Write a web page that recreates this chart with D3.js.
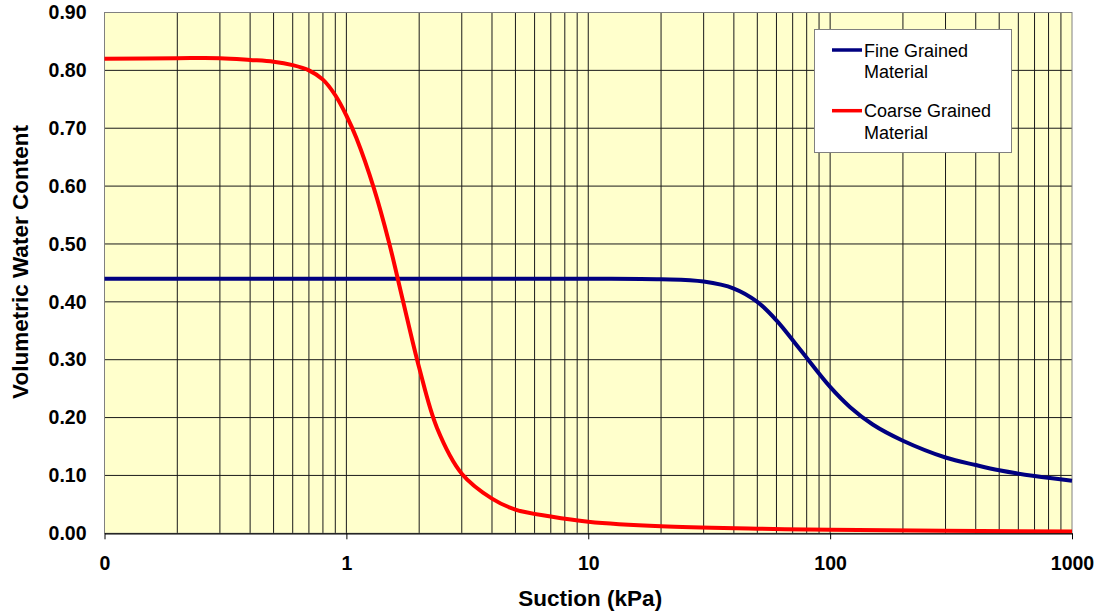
<!DOCTYPE html>
<html>
<head>
<meta charset="utf-8">
<script src="https://cdn.jsdelivr.net/npm/d3@7"></script>
<style>
  html, body { margin: 0; padding: 0; background: #ffffff; }
  svg { display: block; font-family: "Liberation Sans", Arial, sans-serif; }
</style>
</head>
<body>
<svg id="chart" width="1098" height="613"></svg>
<script>
// Soil-water characteristic curves: volumetric water content vs. matric suction
const fineSuction   = [0.1, 1, 10, 20, 30, 40, 50, 60, 75, 100, 121, 150, 200, 300, 400, 500, 700, 1000];
const fineTheta     = [0.44, 0.44, 0.44, 0.439, 0.435, 0.423, 0.400, 0.368, 0.318, 0.253, 0.218, 0.188, 0.160, 0.131, 0.118, 0.109, 0.099, 0.091];

const coarseSuction = [0.1, 0.2, 0.3, 0.4, 0.5, 0.6, 0.7, 0.8, 0.9, 1.0, 1.1, 1.3, 1.5, 1.7, 2.0, 2.37, 3, 4, 5, 7, 10, 20, 50, 100, 1000];
const coarseTheta   = [0.82, 0.821, 0.821, 0.818, 0.815, 0.809, 0.800, 0.784, 0.757, 0.722, 0.683, 0.596, 0.503, 0.408, 0.286, 0.182, 0.103, 0.060, 0.041, 0.029, 0.020, 0.012, 0.008, 0.006, 0.003];

const xTickValues = [0.1, 1, 10, 100, 1000];
const xTickLabels = ["0", "1", "10", "100", "1000"];
const yTickValues = [0, 0.1, 0.2, 0.3, 0.4, 0.5, 0.6, 0.7, 0.8, 0.9];

const seriesNames = ["Fine Grained|Material", "Coarse Grained|Material"];
const seriesColors = ["#000080", "#ff0000"];

const svg = d3.select("#chart");
const plot = { left: 104.5, right: 1072, top: 12.5, bottom: 533.3 };

const x = d3.scaleLog().domain([0.1, 1000]).range([plot.left, plot.right]);
const y = d3.scaleLinear().domain([0, 0.9]).range([plot.bottom, plot.top]);

// plot background
svg.append("rect")
  .attr("x", plot.left).attr("y", plot.top)
  .attr("width", plot.right - plot.left).attr("height", plot.bottom - plot.top)
  .attr("fill", "#ffffcc");

// vertical grid: every 1..9 multiple of each decade
const vGrid = [];
for (let e = -1; e < 3; e++) {
  for (let m = 1; m <= 9; m++) vGrid.push(m * Math.pow(10, e));
}
svg.append("g").selectAll("line").data(vGrid.filter(v => v > 0.1 && v < 1000)).join("line")
  .attr("x1", d => x(d)).attr("x2", d => x(d))
  .attr("y1", plot.top).attr("y2", plot.bottom)
  .attr("stroke", "#1a1a1a").attr("stroke-width", 1);

// horizontal grid
svg.append("g").selectAll("line").data(yTickValues.filter(v => v > 0 && v < 0.9)).join("line")
  .attr("x1", plot.left).attr("x2", plot.right)
  .attr("y1", d => y(d)).attr("y2", d => y(d))
  .attr("stroke", "#1a1a1a").attr("stroke-width", 1);

// plot frame
svg.append("rect")
  .attr("x", plot.left).attr("y", plot.top)
  .attr("width", plot.right - plot.left).attr("height", plot.bottom - plot.top)
  .attr("fill", "none").attr("stroke", "#808080").attr("stroke-width", 1);

// curves
const line = d3.line()
  .x(d => x(d[0])).y(d => y(d[1]))
  .curve(d3.curveCatmullRom.alpha(0.5));

const series = [
  { pts: d3.zip(fineSuction, fineTheta), color: seriesColors[0] },
  { pts: d3.zip(coarseSuction, coarseTheta), color: seriesColors[1] }
];
svg.append("g").selectAll("path").data(series).join("path")
  .attr("d", d => line(d.pts))
  .attr("fill", "none")
  .attr("stroke", d => d.color)
  .attr("stroke-width", 4)
  .attr("stroke-linejoin", "round")
  .attr("stroke-linecap", "butt");

// x axis
const xAxis = d3.axisBottom(x)
  .tickValues(xTickValues)
  .tickFormat((d, i) => xTickLabels[i])
  .tickSizeInner(6).tickSizeOuter(0).tickPadding(17);
const gx = svg.append("g").attr("transform", `translate(0,${plot.bottom})`).call(xAxis);
gx.select(".domain").attr("stroke", "#000").attr("stroke-width", 1.3);
gx.selectAll(".tick line").attr("stroke", "#000");
gx.selectAll(".tick text")
  .attr("font-family", "'Liberation Sans', Arial, sans-serif")
  .attr("font-size", 19.5).attr("font-weight", "bold").attr("fill", "#000");

// y axis (labels only)
const yAxis = d3.axisLeft(y)
  .tickValues(yTickValues)
  .tickFormat(d3.format(".2f"))
  .tickSize(0).tickPadding(18);
const gy = svg.append("g").attr("transform", `translate(${plot.left},0)`).call(yAxis);
gy.select(".domain").remove();
gy.selectAll(".tick text")
  .attr("font-family", "'Liberation Sans', Arial, sans-serif")
  .attr("font-size", 19.5).attr("font-weight", "bold").attr("fill", "#000");

// axis titles
svg.append("text")
  .attr("x", (plot.left + plot.right) / 2 + 2).attr("y", 606)
  .attr("text-anchor", "middle")
  .attr("font-size", 22.5).attr("font-weight", "bold")
  .text("Suction (kPa)");

svg.append("text")
  .attr("transform", "translate(27.5,262) rotate(-90)")
  .attr("text-anchor", "middle")
  .attr("font-size", 22.5).attr("font-weight", "bold")
  .text("Volumetric Water Content");

// legend
const legend = svg.append("g");
legend.append("rect")
  .attr("x", 814.5).attr("y", 29.5).attr("width", 197).attr("height", 123)
  .attr("fill", "#ffffff").attr("stroke", "#808080").attr("stroke-width", 1);

const entries = legend.selectAll("g.entry").data(seriesNames).join("g")
  .attr("class", "entry")
  .attr("transform", (d, i) => `translate(0,${50 + i * 60.7})`);
entries.append("line")
  .attr("x1", 832).attr("x2", 862).attr("y1", 0).attr("y2", 0)
  .attr("stroke", (d, i) => seriesColors[i]).attr("stroke-width", 3.5);
entries.each(function (d) {
  const t = d3.select(this).append("text")
    .attr("x", 864).attr("y", 6.5)
    .attr("font-size", 18).attr("fill", "#000");
  d.split("|").forEach((part, j) => {
    t.append("tspan").attr("x", 864).attr("dy", j === 0 ? 0 : 21.8).text(part);
  });
});
</script>
</body>
</html>
